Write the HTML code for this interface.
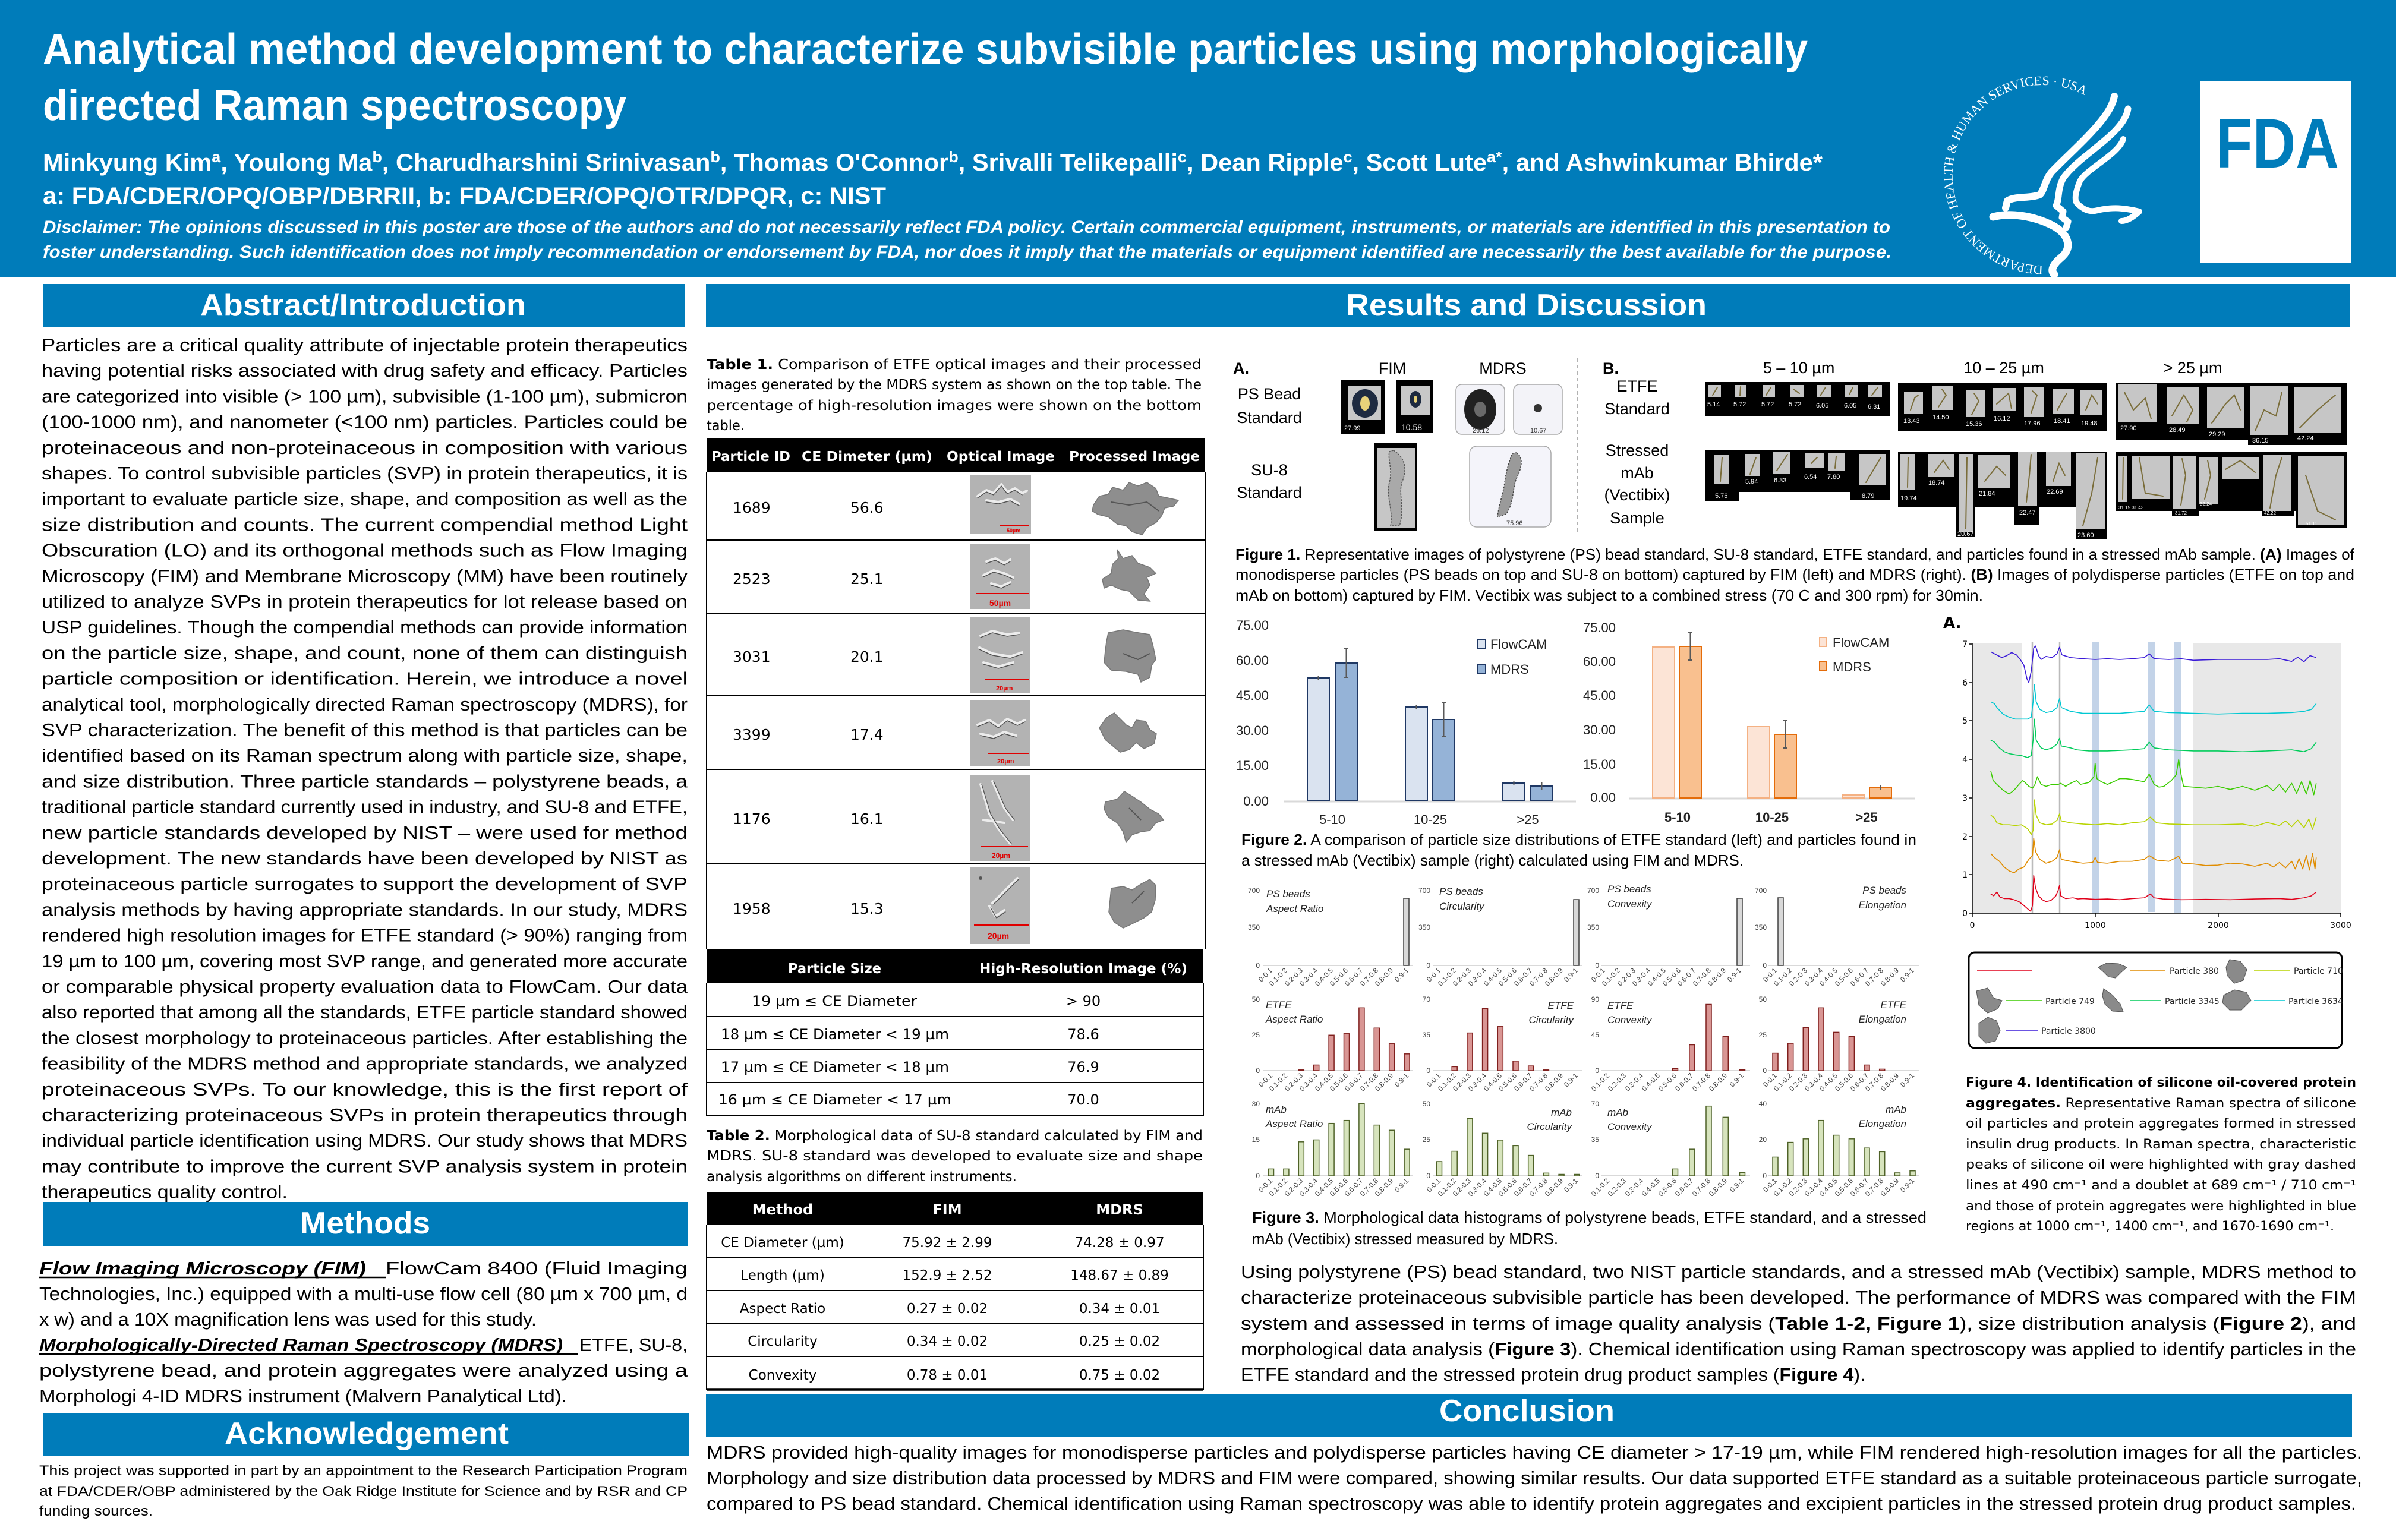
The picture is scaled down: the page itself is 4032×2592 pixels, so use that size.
<!DOCTYPE html>
<html><head><meta charset="utf-8"><title>MDRS poster</title>
<style>
html,body{margin:0;padding:0;background:#fff;}
svg{display:block;}
.sp polyline{vector-effect:non-scaling-stroke;fill:none;stroke-width:1.6;stroke-linejoin:round}
.lb{font-family:"Liberation Sans",Arial,sans-serif}
.dj{font-family:"DejaVu Sans","Liberation Sans",sans-serif}
.xl{font-family:"Liberation Sans",Arial,sans-serif;font-size:12px;fill:#404040;text-anchor:end}
.yl{font-family:"Liberation Sans",Arial,sans-serif;font-size:12px;fill:#404040;text-anchor:end}
.tt{font-family:"Liberation Sans",Arial,sans-serif;font-size:17px;font-style:italic;fill:#222}
</style></head><body>
<svg width="4032" height="2592" viewBox="0 0 4032 2592" xmlns="http://www.w3.org/2000/svg">
<rect x="0" y="0" width="4032" height="2592" fill="#fff"/>

<!-- HEADER -->
<rect x="0" y="0" width="4032" height="466" fill="#007CBA"/>
<g class="lb" fill="#fff" font-weight="bold">
<text x="72" y="107" font-size="72" textLength="2970" lengthAdjust="spacingAndGlyphs">Analytical method development to characterize subvisible particles using morphologically</text>
<text x="72" y="202" font-size="72" textLength="982" lengthAdjust="spacingAndGlyphs">directed Raman spectroscopy</text>
<text x="72" y="287" font-size="40" textLength="2995" lengthAdjust="spacingAndGlyphs">Minkyung Kim<tspan dy="-14" font-size="26">a</tspan><tspan dy="14">, Youlong Ma</tspan><tspan dy="-14" font-size="26">b</tspan><tspan dy="14">, Charudharshini Srinivasan</tspan><tspan dy="-14" font-size="26">b</tspan><tspan dy="14">, Thomas O'Connor</tspan><tspan dy="-14" font-size="26">b</tspan><tspan dy="14">, Srivalli Telikepalli</tspan><tspan dy="-14" font-size="26">c</tspan><tspan dy="14">, Dean Ripple</tspan><tspan dy="-14" font-size="26">c</tspan><tspan dy="14">, Scott Lute</tspan><tspan dy="-14" font-size="26">a*</tspan><tspan dy="14">, and Ashwinkumar Bhirde*</tspan></text>
<text x="72" y="343" font-size="40" textLength="1419" lengthAdjust="spacingAndGlyphs">a: FDA/CDER/OPQ/OBP/DBRRII, b: FDA/CDER/OPQ/OTR/DPQR, c: NIST</text>
<text x="72" y="392" font-size="30" font-style="italic" textLength="3109" lengthAdjust="spacingAndGlyphs">Disclaimer:  The opinions discussed in this poster are those of the authors and do not necessarily reflect FDA policy. Certain commercial equipment, instruments, or materials are identified in this presentation to</text>
<text x="72" y="434" font-size="30" font-style="italic" textLength="3111" lengthAdjust="spacingAndGlyphs">foster understanding.  Such identification does not imply recommendation or endorsement by FDA, nor does it imply that the materials or equipment identified are necessarily the best available for the purpose.</text>
</g>

<!-- HHS logo -->
<path id="hhsarc" d="M3438,447 A152,152 0 1 1 3531,175" fill="none"/>
<text font-family="Liberation Serif,serif" font-size="22" fill="#fff"><textPath href="#hhsarc">DEPARTMENT OF HEALTH &amp; HUMAN SERVICES · USA</textPath></text>
<g fill="none" stroke="#fff" stroke-linecap="round" stroke-linejoin="round">
<path d="M3558,162 C3552,200 3490,250 3452,290 C3440,305 3440,322 3432,328 C3415,334 3390,330 3378,338 L3375,350" stroke-width="12"/>
<path d="M3581,183 C3575,225 3500,260 3472,300 C3462,318 3466,335 3460,346 L3472,356 L3470,366 L3480,373 L3477,383" stroke-width="11"/>
<path d="M3573,234 C3565,260 3510,285 3500,305 C3494,320 3490,335 3495,342 C3505,352 3515,358 3530,354 C3555,348 3575,350 3600,356 C3590,365 3580,372 3570,372" stroke-width="10"/>
<path d="M3354,365 C3380,358 3420,362 3455,380 C3482,395 3488,418 3468,434 C3455,445 3450,455 3457,462" stroke-width="13"/>
</g>
<rect x="3703" y="136" width="254" height="307" fill="#fff"/>
<text x="3729" y="282" class="lb" font-size="118" font-weight="bold" fill="#007CBA" textLength="207" lengthAdjust="spacingAndGlyphs">FDA</text>

<!-- SECTION BARS -->
<g fill="#007CBA">
<rect x="72" y="478" width="1080" height="72"/>
<rect x="1188" y="478" width="2767" height="72"/>
<rect x="72" y="2023" width="1085" height="74"/>
<rect x="72" y="2378" width="1088" height="72"/>
<rect x="1188" y="2346" width="2770" height="73"/>
</g>
<g class="lb" fill="#fff" font-weight="bold" font-size="52">
<text x="337" y="531" textLength="548" lengthAdjust="spacingAndGlyphs">Abstract/Introduction</text>
<text x="2265" y="531" textLength="607" lengthAdjust="spacingAndGlyphs">Results and Discussion</text>
<text x="505" y="2076" textLength="219" lengthAdjust="spacingAndGlyphs">Methods</text>
<text x="378" y="2430" textLength="478" lengthAdjust="spacingAndGlyphs">Acknowledgement</text>
<text x="2422" y="2392" textLength="295" lengthAdjust="spacingAndGlyphs">Conclusion</text>
</g>

<!-- ABSTRACT -->
<g class="lb" font-size="31" fill="#000">
<text x="70" y="591" textLength="1087" lengthAdjust="spacingAndGlyphs">Particles are a critical quality attribute of injectable protein therapeutics</text>
<text x="70" y="634.2" textLength="1087" lengthAdjust="spacingAndGlyphs">having potential risks associated with drug safety and efficacy. Particles</text>
<text x="70" y="677.4" textLength="1087" lengthAdjust="spacingAndGlyphs">are categorized into visible (&gt; 100 µm), subvisible (1-100 µm), submicron</text>
<text x="70" y="720.6" textLength="1087" lengthAdjust="spacingAndGlyphs">(100-1000 nm), and nanometer (&lt;100 nm) particles. Particles could be</text>
<text x="70" y="763.8" textLength="1087" lengthAdjust="spacingAndGlyphs">proteinaceous   and   non-proteinaceous   in   composition   with   various</text>
<text x="70" y="807" textLength="1087" lengthAdjust="spacingAndGlyphs">shapes. To control subvisible particles (SVP) in protein therapeutics, it is</text>
<text x="70" y="850.2" textLength="1087" lengthAdjust="spacingAndGlyphs">important to evaluate particle size, shape, and composition as well as the</text>
<text x="70" y="893.4" textLength="1087" lengthAdjust="spacingAndGlyphs">size  distribution  and  counts.  The  current  compendial  method  Light</text>
<text x="70" y="936.6" textLength="1087" lengthAdjust="spacingAndGlyphs">Obscuration  (LO)  and  its  orthogonal  methods  such  as  Flow  Imaging</text>
<text x="70" y="979.8" textLength="1087" lengthAdjust="spacingAndGlyphs">Microscopy (FIM) and Membrane Microscopy (MM) have been routinely</text>
<text x="70" y="1023" textLength="1087" lengthAdjust="spacingAndGlyphs">utilized to analyze SVPs in protein therapeutics for lot release based on</text>
<text x="70" y="1066.2" textLength="1087" lengthAdjust="spacingAndGlyphs">USP guidelines. Though the compendial methods can provide information</text>
<text x="70" y="1109.4" textLength="1087" lengthAdjust="spacingAndGlyphs">on the particle size, shape, and count, none of them can distinguish</text>
<text x="70" y="1152.6" textLength="1087" lengthAdjust="spacingAndGlyphs">particle composition or identification.  Herein, we introduce a novel</text>
<text x="70" y="1195.8" textLength="1087" lengthAdjust="spacingAndGlyphs">analytical tool, morphologically directed Raman spectroscopy (MDRS), for</text>
<text x="70" y="1239" textLength="1087" lengthAdjust="spacingAndGlyphs">SVP characterization. The benefit of this method is that particles can be</text>
<text x="70" y="1282.2" textLength="1087" lengthAdjust="spacingAndGlyphs">identified based on its Raman spectrum along with particle size, shape,</text>
<text x="70" y="1325.4" textLength="1087" lengthAdjust="spacingAndGlyphs">and size distribution. Three particle standards – polystyrene beads, a</text>
<text x="70" y="1368.6" textLength="1087" lengthAdjust="spacingAndGlyphs">traditional particle standard currently used in industry, and SU-8 and ETFE,</text>
<text x="70" y="1411.8" textLength="1087" lengthAdjust="spacingAndGlyphs">new  particle  standards  developed  by  NIST  –  were  used  for  method</text>
<text x="70" y="1455" textLength="1087" lengthAdjust="spacingAndGlyphs">development.  The  new  standards  have  been  developed  by  NIST  as</text>
<text x="70" y="1498.2" textLength="1087" lengthAdjust="spacingAndGlyphs">proteinaceous particle surrogates to support the development of SVP</text>
<text x="70" y="1541.4" textLength="1087" lengthAdjust="spacingAndGlyphs">analysis methods by having appropriate standards. In our study, MDRS</text>
<text x="70" y="1584.6" textLength="1087" lengthAdjust="spacingAndGlyphs">rendered high resolution images for ETFE standard (&gt; 90%) ranging from</text>
<text x="70" y="1627.8" textLength="1087" lengthAdjust="spacingAndGlyphs">19 µm to 100 µm, covering most SVP range, and generated more accurate</text>
<text x="70" y="1671" textLength="1087" lengthAdjust="spacingAndGlyphs">or comparable physical property evaluation data to FlowCam. Our data</text>
<text x="70" y="1714.2" textLength="1087" lengthAdjust="spacingAndGlyphs">also reported that among all the standards, ETFE particle standard showed</text>
<text x="70" y="1757.4" textLength="1087" lengthAdjust="spacingAndGlyphs">the closest morphology to proteinaceous particles. After establishing the</text>
<text x="70" y="1800.6" textLength="1087" lengthAdjust="spacingAndGlyphs">feasibility of the MDRS method and appropriate standards, we analyzed</text>
<text x="70" y="1843.8" textLength="1087" lengthAdjust="spacingAndGlyphs">proteinaceous  SVPs.  To  our  knowledge,  this  is  the  first  report  of</text>
<text x="70" y="1887" textLength="1087" lengthAdjust="spacingAndGlyphs">characterizing  proteinaceous  SVPs  in  protein  therapeutics  through</text>
<text x="70" y="1930.2" textLength="1087" lengthAdjust="spacingAndGlyphs">individual particle identification using MDRS. Our study shows that MDRS</text>
<text x="70" y="1973.4" textLength="1087" lengthAdjust="spacingAndGlyphs">may contribute to improve the current SVP analysis system in protein</text>
<text x="70" y="2016.6" textLength="414" lengthAdjust="spacingAndGlyphs">therapeutics quality control.</text>
</g>

<!-- METHODS -->
<g class="lb" font-size="31" fill="#000">
<text x="66" y="2145" textLength="550" lengthAdjust="spacingAndGlyphs" font-weight="bold" font-style="italic">Flow Imaging Microscopy (FIM)</text>
<text x="649" y="2145" textLength="508" lengthAdjust="spacingAndGlyphs">FlowCam 8400 (Fluid Imaging</text>
<text x="66" y="2188" textLength="1091" lengthAdjust="spacingAndGlyphs">Technologies, Inc.) equipped with a multi-use flow cell (80 µm x 700 µm, d</text>
<text x="66" y="2231" textLength="837" lengthAdjust="spacingAndGlyphs">x w) and a 10X magnification lens was used for this study.</text>
<text x="66" y="2274" textLength="881" lengthAdjust="spacingAndGlyphs" font-weight="bold" font-style="italic">Morphologically-Directed Raman Spectroscopy (MDRS)</text>
<text x="975" y="2274" textLength="182" lengthAdjust="spacingAndGlyphs">ETFE, SU-8,</text>
<text x="66" y="2317" textLength="1091" lengthAdjust="spacingAndGlyphs">polystyrene bead, and protein aggregates were analyzed using a</text>
<text x="66" y="2360" textLength="888" lengthAdjust="spacingAndGlyphs">Morphologi 4-ID MDRS instrument (Malvern Panalytical Ltd).</text>
</g>
<line x1="66" y1="2150" x2="649" y2="2150" stroke="#000" stroke-width="2.5"/>
<line x1="66" y1="2279" x2="973" y2="2279" stroke="#000" stroke-width="2.5"/>

<!-- ACK -->
<g class="lb" font-size="24" fill="#000">
<text x="66" y="2483" textLength="1091" lengthAdjust="spacingAndGlyphs">This project was supported in part by an appointment to the Research Participation Program</text>
<text x="66" y="2518" textLength="1091" lengthAdjust="spacingAndGlyphs">at FDA/CDER/OBP administered by the Oak Ridge Institute for Science and by  RSR and CP</text>
<text x="66" y="2551" textLength="191" lengthAdjust="spacingAndGlyphs">funding sources.</text>
</g>

<!-- TABLE 1 CAPTION -->
<g class="dj" font-size="23" fill="#000">
<text x="1189" y="621" textLength="833" lengthAdjust="spacingAndGlyphs"><tspan font-weight="bold">Table 1.</tspan> Comparison of ETFE optical images and their processed</text>
<text x="1189" y="655" textLength="833" lengthAdjust="spacingAndGlyphs">images generated by the MDRS system as shown on the top table. The</text>
<text x="1189" y="690" textLength="833" lengthAdjust="spacingAndGlyphs">percentage of high-resolution images were shown on the bottom</text>
<text x="1189" y="724" textLength="64" lengthAdjust="spacingAndGlyphs">table.</text>
</g>

<!-- TABLE 1 -->
<rect x="1189" y="738" width="839" height="56" fill="#000"/>
<g class="dj" font-size="23" font-weight="bold" fill="#fff">
<text x="1197" y="776" textLength="133" lengthAdjust="spacingAndGlyphs">Particle ID</text>
<text x="1349" y="776" textLength="220" lengthAdjust="spacingAndGlyphs">CE Dimeter (µm)</text>
<text x="1593" y="776" textLength="182" lengthAdjust="spacingAndGlyphs">Optical Image</text>
<text x="1799" y="776" textLength="220" lengthAdjust="spacingAndGlyphs">Processed Image</text>
</g>
<g stroke="#000" stroke-width="2">
<line x1="1189" y1="794" x2="1189" y2="1598"/>
<line x1="2028" y1="794" x2="2028" y2="1598"/>
<line x1="1189" y1="909" x2="2028" y2="909"/>
<line x1="1189" y1="1032" x2="2028" y2="1032"/>
<line x1="1189" y1="1171" x2="2028" y2="1171"/>
<line x1="1189" y1="1295" x2="2028" y2="1295"/>
<line x1="1189" y1="1453" x2="2028" y2="1453"/>
</g>
<g class="dj" font-size="25" fill="#000">
<text x="1233" y="863">1689</text><text x="1431" y="863">56.6</text>
<text x="1233" y="983">2523</text><text x="1431" y="983">25.1</text>
<text x="1233" y="1114">3031</text><text x="1431" y="1114">20.1</text>
<text x="1233" y="1245">3399</text><text x="1431" y="1245">17.4</text>
<text x="1233" y="1387">1176</text><text x="1431" y="1387">16.1</text>
<text x="1233" y="1538">1958</text><text x="1431" y="1538">15.3</text>
</g>
<!-- optical tiles -->
<g fill="#b3b3b3">
<rect x="1633" y="800" width="102" height="99"/>
<rect x="1632" y="916" width="101" height="109"/>
<rect x="1632" y="1039" width="101" height="128"/>
<rect x="1632" y="1179" width="101" height="110"/>
<rect x="1632" y="1304" width="101" height="145"/>
<rect x="1632" y="1460" width="101" height="129"/>
</g>
<g fill="none" stroke-linecap="round" stroke-linejoin="round">
<g stroke="#ececec" stroke-width="4">
<polyline points="1645,835 1660,825 1672,830 1685,815 1695,828 1708,822 1720,830 1728,826"/>
<polyline points="1660,842 1680,845 1700,840 1715,848"/>
<polyline points="1660,945 1675,940 1690,948 1700,942"/><polyline points="1655,968 1672,960 1690,965 1705,972"/><polyline points="1668,982 1685,987 1700,980"/>
<polyline points="1650,1070 1670,1062 1695,1068 1715,1065"/><polyline points="1648,1090 1670,1100 1700,1105 1720,1098"/><polyline points="1655,1115 1680,1122 1705,1115"/>
<polyline points="1645,1220 1665,1212 1680,1222 1695,1210 1712,1218 1725,1212"/><polyline points="1650,1235 1672,1240 1690,1232 1710,1238"/>
<polyline points="1650,1320 1665,1370 1680,1395 1700,1420"/><polyline points="1670,1315 1690,1360 1705,1380"/><polyline points="1655,1380 1690,1385"/>
<polyline points="1670,1520 1685,1505 1700,1490 1712,1478"/><polyline points="1665,1525 1675,1542 1690,1532"/>
</g>
<g stroke="#505050" stroke-width="1.3">
<polyline points="1645,838 1660,828 1672,833 1685,818 1695,831 1708,825 1720,833"/>
<polyline points="1660,845 1680,848 1700,843 1715,851"/>
<polyline points="1660,948 1675,943 1690,951 1700,945"/><polyline points="1655,971 1672,963 1690,968 1705,975"/><polyline points="1668,985 1685,990 1700,983"/>
<polyline points="1650,1073 1670,1065 1695,1071 1715,1068"/><polyline points="1648,1093 1670,1103 1700,1108 1720,1101"/><polyline points="1655,1118 1680,1125 1705,1118"/>
<polyline points="1645,1223 1665,1215 1680,1225 1695,1213 1712,1221 1725,1215"/><polyline points="1650,1238 1672,1243 1690,1235 1710,1241"/>
<polyline points="1652,1320 1667,1370 1682,1395 1702,1420"/><polyline points="1672,1315 1692,1360 1707,1380"/>
<polyline points="1672,1522 1687,1507 1702,1492 1714,1480"/><polyline points="1667,1528 1677,1545 1692,1535"/>
</g>
</g>
<circle cx="1650" cy="1478" r="3" fill="#555"/>
<g stroke="#e00000" stroke-width="2">
<line x1="1682" y1="885" x2="1731" y2="885"/>
<line x1="1642" y1="999" x2="1732" y2="999"/>
<line x1="1658" y1="1144" x2="1732" y2="1144"/>
<line x1="1662" y1="1268" x2="1731" y2="1268"/>
<line x1="1650" y1="1425" x2="1730" y2="1425"/>
<line x1="1639" y1="1557" x2="1731" y2="1557"/>
</g>
<g class="lb" fill="#e00000" font-weight="bold">
<text x="1694" y="896" font-size="9">50µm</text>
<text x="1665" y="1020" font-size="14">50µm</text>
<text x="1676" y="1162" font-size="11">20µm</text>
<text x="1678" y="1285" font-size="11">20µm</text>
<text x="1669" y="1444" font-size="12">20µm</text>
<text x="1662" y="1580" font-size="14">20µm</text>
</g>
<!-- processed images -->
<g fill="#8e8e8e" stroke="#777" stroke-width="1.5">
<polygon points="1840,850 1850,835 1865,832 1872,820 1890,825 1900,812 1915,818 1930,812 1945,822 1950,835 1965,838 1983,842 1975,852 1960,855 1955,868 1945,880 1930,888 1922,900 1905,895 1895,885 1880,882 1865,870 1848,866 1838,860"/>
<polygon points="1880,925 1890,940 1905,935 1915,948 1935,955 1945,965 1930,972 1935,985 1925,1000 1935,1012 1915,1010 1900,995 1885,992 1870,985 1858,990 1855,975 1870,965 1872,950 1882,940"/>
<polygon points="1865,1065 1890,1060 1910,1064 1935,1068 1940,1085 1945,1110 1938,1120 1935,1140 1920,1148 1915,1135 1895,1130 1870,1128 1858,1115 1860,1095 1862,1080"/>
<polygon points="1850,1225 1862,1208 1875,1200 1885,1210 1895,1220 1905,1225 1912,1212 1928,1214 1935,1228 1946,1235 1942,1252 1925,1260 1912,1250 1900,1262 1885,1266 1872,1255 1860,1245"/>
<polygon points="1860,1350 1880,1345 1892,1332 1905,1340 1920,1350 1935,1362 1950,1370 1958,1380 1945,1385 1935,1398 1920,1400 1905,1405 1895,1418 1890,1400 1880,1385 1865,1375 1858,1362"/>
<polygon points="1870,1495 1890,1492 1905,1498 1920,1488 1935,1480 1945,1490 1944,1515 1938,1535 1925,1545 1905,1555 1890,1562 1875,1552 1866,1535 1868,1515"/>
</g>
<g fill="none" stroke="#555" stroke-width="2">
<polyline points="1870,845 1900,850 1930,845 1950,860"/><polyline points="1890,1100 1915,1110 1935,1100"/><polyline points="1900,1360 1920,1380"/><polyline points="1905,1520 1925,1500"/>
</g>

<!-- TABLE 1 bottom -->
<rect x="1189" y="1598" width="836" height="57" fill="#000"/>
<g class="dj" font-size="23" font-weight="bold" fill="#fff">
<text x="1326" y="1638" textLength="157" lengthAdjust="spacingAndGlyphs">Particle Size</text>
<text x="1648" y="1638" textLength="350" lengthAdjust="spacingAndGlyphs">High-Resolution Image (%)</text>
</g>
<g stroke="#000" stroke-width="2">
<line x1="1189" y1="1655" x2="1189" y2="1878"/>
<line x1="2025" y1="1655" x2="2025" y2="1878"/>
<line x1="1189" y1="1711" x2="2025" y2="1711"/>
<line x1="1189" y1="1766" x2="2025" y2="1766"/>
<line x1="1189" y1="1822" x2="2025" y2="1822"/>
<line x1="1189" y1="1877" x2="2025" y2="1877"/>
</g>
<g class="dj" font-size="24" fill="#000">
<text x="1265" y="1693" textLength="278" lengthAdjust="spacingAndGlyphs">19 µm  ≤ CE Diameter</text>
<text x="1213" y="1749" textLength="384" lengthAdjust="spacingAndGlyphs">18 µm ≤ CE Diameter &lt; 19 µm</text>
<text x="1213" y="1804" textLength="384" lengthAdjust="spacingAndGlyphs">17 µm ≤ CE Diameter &lt; 18 µm</text>
<text x="1209" y="1859" textLength="392" lengthAdjust="spacingAndGlyphs">16 µm  ≤ CE Diameter &lt; 17 µm</text>
<g text-anchor="middle">
<text x="1823" y="1693">&gt; 90</text>
<text x="1823" y="1749">78.6</text>
<text x="1823" y="1804">76.9</text>
<text x="1823" y="1859">70.0</text>
</g>
</g>

<!-- TABLE 2 CAPTION -->
<g class="dj" font-size="23" fill="#000">
<text x="1189" y="1919" textLength="835" lengthAdjust="spacingAndGlyphs"><tspan font-weight="bold">Table 2.</tspan> Morphological data of SU-8 standard calculated by FIM and</text>
<text x="1189" y="1953" textLength="835" lengthAdjust="spacingAndGlyphs">MDRS.  SU-8  standard  was  developed  to  evaluate  size  and  shape</text>
<text x="1189" y="1988" textLength="522" lengthAdjust="spacingAndGlyphs">analysis algorithms on different instruments.</text>
</g>
<!-- TABLE 2 -->
<rect x="1189" y="2006" width="836" height="56" fill="#000"/>
<g class="dj" font-size="24" font-weight="bold" fill="#fff" text-anchor="middle">
<text x="1317" y="2044">Method</text><text x="1594" y="2044">FIM</text><text x="1884" y="2044">MDRS</text>
</g>
<g stroke="#000" stroke-width="2">
<line x1="1189" y1="2062" x2="1189" y2="2340"/>
<line x1="2025" y1="2062" x2="2025" y2="2340"/>
<line x1="1189" y1="2117" x2="2025" y2="2117"/>
<line x1="1189" y1="2172" x2="2025" y2="2172"/>
<line x1="1189" y1="2228" x2="2025" y2="2228"/>
<line x1="1189" y1="2283" x2="2025" y2="2283"/>
<line x1="1189" y1="2339" x2="2025" y2="2339" stroke-width="3.5"/>
</g>
<g class="dj" font-size="23" fill="#000" text-anchor="middle">
<text x="1317" y="2099">CE Diameter (µm)</text><text x="1594" y="2099">75.92 ± 2.99</text><text x="1884" y="2099">74.28 ± 0.97</text>
<text x="1317" y="2154">Length (µm)</text><text x="1594" y="2154">152.9 ± 2.52</text><text x="1884" y="2154">148.67 ± 0.89</text>
<text x="1317" y="2210">Aspect Ratio</text><text x="1594" y="2210">0.27 ± 0.02</text><text x="1884" y="2210">0.34 ± 0.01</text>
<text x="1317" y="2265">Circularity</text><text x="1594" y="2265">0.34 ± 0.02</text><text x="1884" y="2265">0.25 ± 0.02</text>
<text x="1317" y="2322">Convexity</text><text x="1594" y="2322">0.78 ± 0.01</text><text x="1884" y="2322">0.75 ± 0.02</text>
</g>

<!-- FIGURE 1 -->
<g class="lb" font-size="27" fill="#000">
<text x="2075" y="629" font-weight="bold">A.</text>
<text x="2343" y="629" text-anchor="middle">FIM</text>
<text x="2529" y="629" text-anchor="middle">MDRS</text>
<text x="2136" y="672" text-anchor="middle">PS Bead</text>
<text x="2136" y="712" text-anchor="middle">Standard</text>
<text x="2136" y="800" text-anchor="middle">SU-8</text>
<text x="2136" y="838" text-anchor="middle">Standard</text>
<text x="2697" y="629" font-weight="bold">B.</text>
<text x="2755" y="659" text-anchor="middle">ETFE</text>
<text x="2755" y="697" text-anchor="middle">Standard</text>
<text x="2755" y="767" text-anchor="middle">Stressed</text>
<text x="2755" y="805" text-anchor="middle">mAb</text>
<text x="2755" y="842" text-anchor="middle">(Vectibix)</text>
<text x="2755" y="881" text-anchor="middle">Sample</text>
<text x="3027" y="628" text-anchor="middle">5 – 10 µm</text>
<text x="3372" y="628" text-anchor="middle">10 – 25 µm</text>
<text x="3690" y="628" text-anchor="middle">&gt; 25 µm</text>
</g>
<line x1="2655" y1="603" x2="2655" y2="898" stroke="#999" stroke-width="1.5" stroke-dasharray="6,5"/>
<!-- PS bead -->
<rect x="2257" y="640" width="73" height="90" fill="#000"/>
<rect x="2268" y="650" width="56" height="57" fill="#c8c8c8"/>
<ellipse cx="2297" cy="679" rx="22" ry="24" fill="#1d2a40"/>
<ellipse cx="2297" cy="679" rx="8" ry="12" fill="#e8d27a"/>
<rect x="2350" y="639" width="61" height="90" fill="#000"/>
<rect x="2357" y="649" width="50" height="49" fill="#c8c8c8"/>
<ellipse cx="2382" cy="672" rx="10" ry="14" fill="#1d2a40"/>
<ellipse cx="2382" cy="672" rx="3" ry="6" fill="#e8d27a"/>
<rect x="2450" y="647" width="82" height="84" rx="10" fill="#f3f3f8" stroke="#aaa" stroke-width="1.5"/>
<ellipse cx="2491" cy="689" rx="27" ry="34" fill="#202020"/>
<ellipse cx="2491" cy="689" rx="10" ry="13" fill="#6a6a6a"/>
<rect x="2547" y="647" width="82" height="84" rx="10" fill="#f3f3f8" stroke="#aaa" stroke-width="1.5"/>
<circle cx="2588" cy="687" r="7" fill="#333"/>
<g class="lb" font-size="11">
<text x="2262" y="724" fill="#fff">27.99</text>
<text x="2358" y="724" fill="#fff" font-size="14">10.58</text>
<text x="2478" y="728" fill="#333">26.12</text>
<text x="2575" y="728" fill="#333">10.67</text>
</g>
<!-- SU-8 -->
<rect x="2312" y="745" width="72" height="149" fill="#000"/>
<rect x="2318" y="754" width="63" height="134" fill="#c6c6c6"/>
<path d="M2345,758 C2365,770 2368,790 2360,810 C2352,830 2365,855 2355,885 L2340,885 C2345,860 2332,835 2338,812 C2344,790 2335,775 2338,760 Z" fill="#a9a9a9" stroke="#555" stroke-width="1.5" stroke-dasharray="3,2"/>
<rect x="2473" y="751" width="137" height="136" rx="12" fill="#f4f4fa" stroke="#aaa" stroke-width="1.5"/>
<path d="M2552,762 C2565,770 2560,790 2552,805 C2545,822 2548,845 2535,865 L2520,870 C2522,850 2530,830 2532,812 C2534,795 2540,775 2545,763 Z" fill="#9a9a9a" stroke="#444" stroke-width="1.5" stroke-dasharray="3,2"/>
<text x="2535" y="884" class="lb" font-size="11" fill="#333">75.96</text>

<!-- ETFE boxes -->
<g fill="#000">
<rect x="2870" y="643" width="310" height="57"/>
<rect x="3194" y="644" width="351" height="82"/>
<rect x="3560" y="644" width="390" height="96"/>
<rect x="3783" y="738" width="167" height="11"/>
<rect x="2870" y="758" width="310" height="70"/>
<rect x="2870" y="826" width="57" height="18"/>
<rect x="3113" y="826" width="67" height="16"/>
<rect x="3194" y="760" width="351" height="93"/>
<rect x="3292" y="850" width="32" height="54"/>
<rect x="3390" y="850" width="42" height="34"/>
<rect x="3493" y="850" width="52" height="57"/>
<rect x="3560" y="761" width="390" height="99"/>
<rect x="3655" y="858" width="45" height="10"/>
<rect x="3806" y="858" width="54" height="10"/>
<rect x="3864" y="858" width="86" height="30"/>
</g>
<g fill="#c6c6c6">
<rect x="2875" y="648" width="21" height="21"/><rect x="2919" y="648" width="19" height="21"/><rect x="2966" y="648" width="21" height="21"/><rect x="3012" y="648" width="23" height="21"/><rect x="3057" y="648" width="24" height="21"/><rect x="3104" y="648" width="23" height="21"/><rect x="3144" y="648" width="23" height="21"/>
<rect x="3204" y="659" width="32" height="37"/><rect x="3252" y="649" width="34" height="41"/><rect x="3309" y="656" width="31" height="46"/><rect x="3353" y="653" width="40" height="39"/><rect x="3406" y="652" width="34" height="50"/><rect x="3454" y="654" width="36" height="42"/><rect x="3500" y="657" width="38" height="42"/>
<rect x="3565" y="647" width="65" height="64"/><rect x="3647" y="652" width="54" height="62"/><rect x="3714" y="651" width="63" height="70"/><rect x="3787" y="649" width="63" height="83"/><rect x="3861" y="652" width="79" height="77"/>
<rect x="2884" y="765" width="25" height="49"/><rect x="2937" y="764" width="25" height="37"/><rect x="2984" y="761" width="29" height="36"/><rect x="3037" y="762" width="33" height="26"/><rect x="3076" y="762" width="28" height="30"/><rect x="3129" y="764" width="44" height="53"/>
<rect x="3198" y="764" width="25" height="61"/><rect x="3245" y="764" width="44" height="39"/><rect x="3296" y="764" width="25" height="132"/><rect x="3328" y="765" width="55" height="56"/><rect x="3396" y="760" width="32" height="91"/><rect x="3443" y="761" width="42" height="57"/><rect x="3494" y="763" width="48" height="128"/>
<rect x="3565" y="767" width="14" height="78"/><rect x="3588" y="767" width="63" height="73"/><rect x="3657" y="768" width="38" height="88"/><rect x="3701" y="769" width="32" height="79"/><rect x="3739" y="769" width="63" height="37"/><rect x="3808" y="765" width="48" height="95"/><rect x="3867" y="768" width="77" height="116"/>
</g>
<g fill="none" stroke="#7a6d3a" stroke-width="2" stroke-linecap="round">
<polyline points="2882,665 2890,652"/><polyline points="2928,666 2929,651"/><polyline points="2972,665 2980,652"/><polyline points="3018,655 3028,662"/><polyline points="3063,666 3072,652"/><polyline points="3112,664 3118,652"/><polyline points="3150,665 3160,652"/>
<polyline points="3215,690 3222,670 3228,665"/><polyline points="3262,685 3275,665 3268,655"/><polyline points="3318,698 3330,675 3322,662"/><polyline points="3360,680 3380,662 3385,688"/><polyline points="3418,695 3428,665 3420,658"/><polyline points="3462,690 3478,662"/><polyline points="3510,690 3520,665 3530,680"/>
<polyline points="3575,660 3590,690 3610,670 3620,705"/><polyline points="3655,700 3675,665 3690,690 3680,710"/><polyline points="3722,712 3745,680 3760,665 3770,690"/><polyline points="3795,725 3810,690 3830,700 3840,660"/><polyline points="3870,720 3900,690 3930,665"/>
<polyline points="2895,810 2898,770"/><polyline points="2945,798 2955,770"/><polyline points="2990,792 3008,765"/><polyline points="3048,780 3058,770"/><polyline points="3088,788 3090,768"/><polyline points="3140,812 3165,770"/>
<polyline points="3210,820 3211,770"/><polyline points="3255,795 3270,775 3280,790"/><polyline points="3308,890 3310,770"/><polyline points="3340,810 3360,785 3375,800"/><polyline points="3410,845 3415,800 3418,765"/><polyline points="3455,810 3465,780 3475,800"/><polyline points="3505,885 3520,830 3530,770"/>
<polyline points="3572,840 3573,770"/><polyline points="3600,770 3610,830 3640,835"/><polyline points="3670,850 3678,800 3672,772"/><polyline points="3710,840 3720,800 3715,775"/><polyline points="3745,790 3770,775 3795,795"/><polyline points="3820,855 3830,800 3840,770"/><polyline points="3880,800 3900,860 3930,875"/>
</g>
<g class="lb" font-size="11" fill="#fff">
<text x="2873" y="684">5.14</text><text x="2917" y="684">5.72</text><text x="2964" y="684">5.72</text><text x="3010" y="684">5.72</text><text x="3056" y="686">6.05</text><text x="3103" y="686">6.05</text><text x="3143" y="688">6.31</text>
<text x="3203" y="712">13.43</text><text x="3252" y="706">14.50</text><text x="3308" y="717">15.36</text><text x="3355" y="708">16.12</text><text x="3406" y="716">17.96</text><text x="3456" y="712">18.41</text><text x="3502" y="716">19.48</text>
<text x="3568" y="724">27.90</text><text x="3650" y="727">28.49</text><text x="3717" y="734">29.29</text><text x="3790" y="745">36.15</text><text x="3866" y="741">42.24</text>
<text x="2886" y="838">5.76</text><text x="2937" y="814">5.94</text><text x="2985" y="812">6.33</text><text x="3036" y="806">6.54</text><text x="3075" y="806">7.80</text><text x="3133" y="838">8.79</text>
<text x="3198" y="842">19.74</text><text x="3245" y="816">18.74</text><text x="3294" y="902">20.67</text><text x="3330" y="834">21.84</text><text x="3398" y="866">22.47</text><text x="3444" y="831">22.69</text><text x="3496" y="904">23.60</text>
<text x="3565" y="857" font-size="8">31.15 31.43</text><text x="3660" y="866" font-size="8">31.72</text><text x="3702" y="851" font-size="8">32.24</text><text x="3810" y="866" font-size="8">42.22</text><text x="3880" y="884" font-size="8">51.11</text>
</g>
<!-- Fig 1 caption -->
<g class="lb" font-size="26" fill="#000">
<text x="2079" y="942" textLength="1883" lengthAdjust="spacingAndGlyphs"><tspan font-weight="bold">Figure 1.</tspan> Representative images of polystyrene (PS) bead standard, SU-8 standard, ETFE standard, and particles found in a stressed mAb sample. <tspan font-weight="bold">(A)</tspan> Images of</text>
<text x="2079" y="976" textLength="1883" lengthAdjust="spacingAndGlyphs">monodisperse particles (PS beads on top and SU-8 on bottom) captured by FIM (left) and MDRS (right). <tspan font-weight="bold">(B)</tspan> Images of polydisperse particles (ETFE on top and</text>
<text x="2079" y="1011" textLength="1258" lengthAdjust="spacingAndGlyphs">mAb on bottom) captured by FIM. Vectibix was subject to a combined stress (70 C and 300 rpm) for 30min.</text>
</g>

<!-- FIGURE 2 -->
<g class="lb" font-size="22" fill="#222">
<g text-anchor="end">
<text x="2135" y="1060">75.00</text><text x="2135" y="1119">60.00</text><text x="2135" y="1178">45.00</text><text x="2135" y="1237">30.00</text><text x="2135" y="1296">15.00</text><text x="2135" y="1356">0.00</text>
<text x="2719" y="1064">75.00</text><text x="2719" y="1121">60.00</text><text x="2719" y="1178">45.00</text><text x="2719" y="1236">30.00</text><text x="2719" y="1294">15.00</text><text x="2719" y="1350">0.00</text>
</g>
<g text-anchor="middle">
<text x="2242" y="1387">5-10</text><text x="2407" y="1387">10-25</text><text x="2571" y="1387">&gt;25</text>
<text x="2823" y="1383" font-weight="bold">5-10</text><text x="2982" y="1383" font-weight="bold">10-25</text><text x="3141" y="1383" font-weight="bold">&gt;25</text>
</g>
<text x="2508" y="1092">FlowCAM</text><text x="2508" y="1134">MDRS</text>
<text x="3084" y="1089">FlowCAM</text><text x="3084" y="1130">MDRS</text>
</g>
<line x1="2160" y1="1349" x2="2652" y2="1349" stroke="#d9d9d9" stroke-width="3"/>
<line x1="2742" y1="1344" x2="3222" y2="1344" stroke="#d9d9d9" stroke-width="3"/>
<g stroke="#1f3864" stroke-width="2">
<rect x="2200" y="1141" width="37" height="207" fill="#dae3f0"/>
<rect x="2247" y="1116" width="37" height="232" fill="#95b3d7"/>
<rect x="2365" y="1190" width="37" height="158" fill="#dae3f0"/>
<rect x="2411" y="1211" width="37" height="137" fill="#95b3d7"/>
<rect x="2529" y="1318" width="37" height="30" fill="#dae3f0"/>
<rect x="2576" y="1323" width="37" height="25" fill="#95b3d7"/>
<rect x="2487" y="1077" width="13" height="14" fill="#dae3f0"/>
<rect x="2487" y="1119" width="13" height="14" fill="#95b3d7"/>
</g>
<g stroke="#f4b183" stroke-width="2" fill="#fce4d6">
<rect x="2781" y="1089" width="37" height="254"/>
<rect x="2941" y="1223" width="37" height="120"/>
<rect x="3100" y="1338" width="37" height="5"/>
<rect x="3062" y="1073" width="12" height="15"/>
</g>
<g stroke="#e46c0a" stroke-width="2" fill="#f9c08f">
<rect x="2826" y="1088" width="37" height="255"/>
<rect x="2986" y="1236" width="37" height="107"/>
<rect x="3146" y="1326" width="37" height="17"/>
<rect x="3062" y="1114" width="12" height="15"/>
</g>
<g stroke="#595959" stroke-width="2">
<line x1="2265.5" y1="1091" x2="2265.5" y2="1140"/><line x1="2262" y1="1091" x2="2269" y2="1091"/><line x1="2262" y1="1140" x2="2269" y2="1140"/>
<line x1="2429.5" y1="1183" x2="2429.5" y2="1240"/><line x1="2426" y1="1183" x2="2433" y2="1183"/><line x1="2426" y1="1240" x2="2433" y2="1240"/>
<line x1="2594.5" y1="1316" x2="2594.5" y2="1330"/>
<line x1="2218.5" y1="1137" x2="2218.5" y2="1145"/><line x1="2383.5" y1="1187" x2="2383.5" y2="1193"/><line x1="2547.5" y1="1315" x2="2547.5" y2="1322"/>
<line x1="2844.5" y1="1064" x2="2844.5" y2="1111"/><line x1="2841" y1="1064" x2="2848" y2="1064"/><line x1="2841" y1="1111" x2="2848" y2="1111"/>
<line x1="3004.5" y1="1213" x2="3004.5" y2="1259"/><line x1="3001" y1="1213" x2="3008" y2="1213"/><line x1="3001" y1="1259" x2="3008" y2="1259"/>
<line x1="3164.5" y1="1322" x2="3164.5" y2="1330"/>
</g>
<g class="lb" font-size="26" fill="#000">
<text x="2089" y="1422" textLength="1136" lengthAdjust="spacingAndGlyphs"><tspan font-weight="bold">Figure 2.</tspan> A comparison of particle size distributions of ETFE standard (left) and particles found in</text>
<text x="2089" y="1457" textLength="845" lengthAdjust="spacingAndGlyphs">a stressed mAb (Vectibix) sample (right) calculated using FIM and MDRS.</text>
</g>

<!-- FIGURE 3 -->
<g stroke="#d9d9d9" stroke-width="2">
<line x1="2126" y1="1625" x2="2378" y2="1625"/><line x1="2412" y1="1625" x2="2662" y2="1625"/><line x1="2694" y1="1625" x2="2945" y2="1625"/><line x1="2975" y1="1625" x2="3230" y2="1625"/>
<line x1="2126" y1="1802" x2="2378" y2="1802"/><line x1="2412" y1="1802" x2="2662" y2="1802"/><line x1="2694" y1="1802" x2="2945" y2="1802"/><line x1="2975" y1="1802" x2="3230" y2="1802"/>
<line x1="2126" y1="1979" x2="2378" y2="1979"/><line x1="2412" y1="1979" x2="2662" y2="1979"/><line x1="2694" y1="1979" x2="2945" y2="1979"/><line x1="2975" y1="1979" x2="3230" y2="1979"/>
</g>
<g fill="#d9d9d9" stroke="#404040" stroke-width="1.5">
<rect x="2362" y="1512" width="9" height="113"/>
<rect x="2648" y="1514" width="9" height="111"/>
<rect x="2923" y="1512" width="9" height="113"/>
<rect x="2992" y="1511" width="9" height="114"/>
</g>
<g fill="#d99694" stroke="#7f1f1d" stroke-width="1.5">
<rect x="2185.3" y="1800.8" width="9" height="1.2"/><rect x="2210.7" y="1792.5" width="9" height="9.5"/><rect x="2236.1" y="1742.3" width="9" height="59.7"/><rect x="2261.5" y="1739.8" width="9" height="62.2"/><rect x="2286.9" y="1696.3" width="9" height="105.7"/><rect x="2312.3" y="1730.3" width="9" height="71.7"/><rect x="2337.7" y="1756.8" width="9" height="45.2"/><rect x="2363.1" y="1773.8" width="9" height="28.2"/>
<rect x="2443.2" y="1795.4" width="9" height="6.6"/><rect x="2468.9" y="1738.6" width="9" height="63.4"/><rect x="2494.6" y="1697.6" width="9" height="104.4"/><rect x="2520.3" y="1727.8" width="9" height="74.2"/><rect x="2546" y="1785.8" width="9" height="16.2"/><rect x="2571.7" y="1794.1" width="9" height="7.9"/><rect x="2597.4" y="1800.8" width="9" height="1.2"/>
<rect x="2814.5" y="1798.3" width="9" height="3.7"/><rect x="2842.8" y="1758.5" width="9" height="43.5"/><rect x="2871" y="1690.5" width="9" height="111.5"/><rect x="2899.3" y="1744.4" width="9" height="57.6"/><rect x="2927.5" y="1800.4" width="9" height="1.6"/>
<rect x="2983" y="1772.6" width="9" height="29.4"/><rect x="3008.7" y="1756" width="9" height="46"/><rect x="3034.3" y="1729.5" width="9" height="72.5"/><rect x="3060" y="1696.3" width="9" height="105.7"/><rect x="3085.7" y="1737.4" width="9" height="64.6"/><rect x="3111.4" y="1744.4" width="9" height="57.6"/><rect x="3137" y="1792.5" width="9" height="9.5"/><rect x="3162.7" y="1799.5" width="9" height="2.5"/>
</g>
<g fill="#d7e4bd" stroke="#4f6228" stroke-width="1.5">
<rect x="2134.5" y="1967.4" width="9" height="11.6"/><rect x="2159.9" y="1967.4" width="9" height="11.6"/><rect x="2185.3" y="1921.8" width="9" height="57.2"/><rect x="2210.7" y="1918.5" width="9" height="60.5"/><rect x="2236.1" y="1890.7" width="9" height="88.3"/><rect x="2261.5" y="1885.7" width="9" height="93.3"/><rect x="2286.9" y="1857.6" width="9" height="121.4"/><rect x="2312.3" y="1893.6" width="9" height="85.4"/><rect x="2337.7" y="1902.3" width="9" height="76.7"/><rect x="2363.1" y="1934.2" width="9" height="44.8"/>
<rect x="2417.5" y="1955" width="9" height="24"/><rect x="2443.2" y="1937.6" width="9" height="41.4"/><rect x="2468.9" y="1882.4" width="9" height="96.6"/><rect x="2494.6" y="1907.3" width="9" height="71.7"/><rect x="2520.3" y="1918.9" width="9" height="60.1"/><rect x="2546" y="1928.4" width="9" height="50.6"/><rect x="2571.7" y="1944.6" width="9" height="34.4"/><rect x="2597.4" y="1974.4" width="9" height="4.6"/><rect x="2623.1" y="1976.5" width="9" height="2.5"/><rect x="2648.8" y="1976.5" width="9" height="2.5"/>
<rect x="2814.5" y="1967.4" width="9" height="11.6"/><rect x="2842.8" y="1934.2" width="9" height="44.8"/><rect x="2871" y="1861.7" width="9" height="117.3"/><rect x="2899.3" y="1880.4" width="9" height="98.6"/><rect x="2927.5" y="1973.6" width="9" height="5.4"/>
<rect x="2983" y="1947.5" width="9" height="31.5"/><rect x="3008.7" y="1922.6" width="9" height="56.4"/><rect x="3034.3" y="1916.8" width="9" height="62.2"/><rect x="3060" y="1885.7" width="9" height="93.3"/><rect x="3085.7" y="1910.6" width="9" height="68.4"/><rect x="3111.4" y="1916.8" width="9" height="62.2"/><rect x="3137" y="1932.2" width="9" height="46.8"/><rect x="3162.7" y="1938.4" width="9" height="40.6"/><rect x="3188.4" y="1974" width="9" height="5"/><rect x="3214" y="1970.7" width="9" height="8.3"/>
</g>
<g class="yl">
<text x="2120" y="1503">700</text><text x="2120" y="1565">350</text><text x="2120" y="1629">0</text>
<text x="2407" y="1503">700</text><text x="2407" y="1565">350</text><text x="2407" y="1629">0</text>
<text x="2691" y="1503">700</text><text x="2691" y="1565">350</text><text x="2691" y="1629">0</text>
<text x="2973" y="1503">700</text><text x="2973" y="1565">350</text><text x="2973" y="1629">0</text>
<text x="2120" y="1686">50</text><text x="2120" y="1746">25</text><text x="2120" y="1806">0</text>
<text x="2407" y="1686">70</text><text x="2407" y="1746">35</text><text x="2407" y="1806">0</text>
<text x="2691" y="1686">90</text><text x="2691" y="1746">45</text><text x="2691" y="1806">0</text>
<text x="2973" y="1686">50</text><text x="2973" y="1746">25</text><text x="2973" y="1806">0</text>
<text x="2120" y="1862">30</text><text x="2120" y="1922">15</text><text x="2120" y="1983">0</text>
<text x="2407" y="1862">50</text><text x="2407" y="1922">25</text><text x="2407" y="1983">0</text>
<text x="2691" y="1862">70</text><text x="2691" y="1922">35</text><text x="2691" y="1983">0</text>
<text x="2973" y="1862">40</text><text x="2973" y="1922">20</text><text x="2973" y="1983">0</text>
</g>
<g class="tt">
<text x="2131" y="1510">PS beads</text><text x="2131" y="1535">Aspect Ratio</text>
<text x="2422" y="1506">PS beads</text><text x="2422" y="1531">Circularity</text>
<text x="2705" y="1502">PS beads</text><text x="2705" y="1527">Convexity</text>
<text x="3208" y="1504" text-anchor="end">PS beads</text><text x="3208" y="1529" text-anchor="end">Elongation</text>
<text x="2130" y="1697">ETFE</text><text x="2130" y="1721">Aspect Ratio</text>
<text x="2648" y="1698" text-anchor="end">ETFE</text><text x="2648" y="1722" text-anchor="end">Circularity</text>
<text x="2705" y="1698">ETFE</text><text x="2705" y="1722">Convexity</text>
<text x="3208" y="1697" text-anchor="end">ETFE</text><text x="3208" y="1721" text-anchor="end">Elongation</text>
<text x="2130" y="1873">mAb</text><text x="2130" y="1897">Aspect Ratio</text>
<text x="2645" y="1878" text-anchor="end">mAb</text><text x="2645" y="1902" text-anchor="end">Circularity</text>
<text x="2705" y="1878">mAb</text><text x="2705" y="1902">Convexity</text>
<text x="3208" y="1873" text-anchor="end">mAb</text><text x="3208" y="1897" text-anchor="end">Elongation</text>
</g>
<g class="xl">
<text transform="translate(2142,1634) rotate(-45)">0-0.1</text><text transform="translate(2167,1634) rotate(-45)">0.1-0.2</text><text transform="translate(2193,1634) rotate(-45)">0.2-0.3</text><text transform="translate(2218,1634) rotate(-45)">0.3-0.4</text><text transform="translate(2244,1634) rotate(-45)">0.4-0.5</text><text transform="translate(2269,1634) rotate(-45)">0.5-0.6</text><text transform="translate(2294,1634) rotate(-45)">0.6-0.7</text><text transform="translate(2320,1634) rotate(-45)">0.7-0.8</text><text transform="translate(2345,1634) rotate(-45)">0.8-0.9</text><text transform="translate(2371,1634) rotate(-45)">0.9-1</text>
<text transform="translate(2425,1634) rotate(-45)">0-0.1</text><text transform="translate(2451,1634) rotate(-45)">0.1-0.2</text><text transform="translate(2476,1634) rotate(-45)">0.2-0.3</text><text transform="translate(2502,1634) rotate(-45)">0.3-0.4</text><text transform="translate(2528,1634) rotate(-45)">0.4-0.5</text><text transform="translate(2553,1634) rotate(-45)">0.5-0.6</text><text transform="translate(2579,1634) rotate(-45)">0.6-0.7</text><text transform="translate(2605,1634) rotate(-45)">0.7-0.8</text><text transform="translate(2631,1634) rotate(-45)">0.8-0.9</text><text transform="translate(2656,1634) rotate(-45)">0.9-1</text>
<text transform="translate(2702,1634) rotate(-45)">0-0.1</text><text transform="translate(2727,1634) rotate(-45)">0.1-0.2</text><text transform="translate(2753,1634) rotate(-45)">0.2-0.3</text><text transform="translate(2778,1634) rotate(-45)">0.3-0.4</text><text transform="translate(2804,1634) rotate(-45)">0.4-0.5</text><text transform="translate(2829,1634) rotate(-45)">0.5-0.6</text><text transform="translate(2854,1634) rotate(-45)">0.6-0.7</text><text transform="translate(2880,1634) rotate(-45)">0.7-0.8</text><text transform="translate(2905,1634) rotate(-45)">0.8-0.9</text><text transform="translate(2931,1634) rotate(-45)">0.9-1</text>
<text transform="translate(2991,1634) rotate(-45)">0-0.1</text><text transform="translate(3016,1634) rotate(-45)">0.1-0.2</text><text transform="translate(3042,1634) rotate(-45)">0.2-0.3</text><text transform="translate(3068,1634) rotate(-45)">0.3-0.4</text><text transform="translate(3093,1634) rotate(-45)">0.4-0.5</text><text transform="translate(3119,1634) rotate(-45)">0.5-0.6</text><text transform="translate(3145,1634) rotate(-45)">0.6-0.7</text><text transform="translate(3170,1634) rotate(-45)">0.7-0.8</text><text transform="translate(3196,1634) rotate(-45)">0.8-0.9</text><text transform="translate(3222,1634) rotate(-45)">0.9-1</text>
<text transform="translate(2142,1811) rotate(-45)">0-0.1</text><text transform="translate(2167,1811) rotate(-45)">0.1-0.2</text><text transform="translate(2193,1811) rotate(-45)">0.2-0.3</text><text transform="translate(2218,1811) rotate(-45)">0.3-0.4</text><text transform="translate(2244,1811) rotate(-45)">0.4-0.5</text><text transform="translate(2269,1811) rotate(-45)">0.5-0.6</text><text transform="translate(2294,1811) rotate(-45)">0.6-0.7</text><text transform="translate(2320,1811) rotate(-45)">0.7-0.8</text><text transform="translate(2345,1811) rotate(-45)">0.8-0.9</text><text transform="translate(2371,1811) rotate(-45)">0.9-1</text>
<text transform="translate(2425,1811) rotate(-45)">0-0.1</text><text transform="translate(2451,1811) rotate(-45)">0.1-0.2</text><text transform="translate(2476,1811) rotate(-45)">0.2-0.3</text><text transform="translate(2502,1811) rotate(-45)">0.3-0.4</text><text transform="translate(2528,1811) rotate(-45)">0.4-0.5</text><text transform="translate(2553,1811) rotate(-45)">0.5-0.6</text><text transform="translate(2579,1811) rotate(-45)">0.6-0.7</text><text transform="translate(2605,1811) rotate(-45)">0.7-0.8</text><text transform="translate(2631,1811) rotate(-45)">0.8-0.9</text><text transform="translate(2656,1811) rotate(-45)">0.9-1</text>
<text transform="translate(2709,1811) rotate(-45)">0.1-0.2</text><text transform="translate(2737,1811) rotate(-45)">0.2-0.3</text><text transform="translate(2766,1811) rotate(-45)">0.3-0.4</text><text transform="translate(2794,1811) rotate(-45)">0.4-0.5</text><text transform="translate(2822,1811) rotate(-45)">0.5-0.6</text><text transform="translate(2850,1811) rotate(-45)">0.6-0.7</text><text transform="translate(2879,1811) rotate(-45)">0.7-0.8</text><text transform="translate(2907,1811) rotate(-45)">0.8-0.9</text><text transform="translate(2935,1811) rotate(-45)">0.9-1</text>
<text transform="translate(2991,1811) rotate(-45)">0-0.1</text><text transform="translate(3016,1811) rotate(-45)">0.1-0.2</text><text transform="translate(3042,1811) rotate(-45)">0.2-0.3</text><text transform="translate(3068,1811) rotate(-45)">0.3-0.4</text><text transform="translate(3093,1811) rotate(-45)">0.4-0.5</text><text transform="translate(3119,1811) rotate(-45)">0.5-0.6</text><text transform="translate(3145,1811) rotate(-45)">0.6-0.7</text><text transform="translate(3170,1811) rotate(-45)">0.7-0.8</text><text transform="translate(3196,1811) rotate(-45)">0.8-0.9</text><text transform="translate(3222,1811) rotate(-45)">0.9-1</text>
<text transform="translate(2142,1988) rotate(-45)">0-0.1</text><text transform="translate(2167,1988) rotate(-45)">0.1-0.2</text><text transform="translate(2193,1988) rotate(-45)">0.2-0.3</text><text transform="translate(2218,1988) rotate(-45)">0.3-0.4</text><text transform="translate(2244,1988) rotate(-45)">0.4-0.5</text><text transform="translate(2269,1988) rotate(-45)">0.5-0.6</text><text transform="translate(2294,1988) rotate(-45)">0.6-0.7</text><text transform="translate(2320,1988) rotate(-45)">0.7-0.8</text><text transform="translate(2345,1988) rotate(-45)">0.8-0.9</text><text transform="translate(2371,1988) rotate(-45)">0.9-1</text>
<text transform="translate(2425,1988) rotate(-45)">0-0.1</text><text transform="translate(2451,1988) rotate(-45)">0.1-0.2</text><text transform="translate(2476,1988) rotate(-45)">0.2-0.3</text><text transform="translate(2502,1988) rotate(-45)">0.3-0.4</text><text transform="translate(2528,1988) rotate(-45)">0.4-0.5</text><text transform="translate(2553,1988) rotate(-45)">0.5-0.6</text><text transform="translate(2579,1988) rotate(-45)">0.6-0.7</text><text transform="translate(2605,1988) rotate(-45)">0.7-0.8</text><text transform="translate(2631,1988) rotate(-45)">0.8-0.9</text><text transform="translate(2656,1988) rotate(-45)">0.9-1</text>
<text transform="translate(2709,1988) rotate(-45)">0.1-0.2</text><text transform="translate(2737,1988) rotate(-45)">0.2-0.3</text><text transform="translate(2766,1988) rotate(-45)">0.3-0.4</text><text transform="translate(2794,1988) rotate(-45)">0.4-0.5</text><text transform="translate(2822,1988) rotate(-45)">0.5-0.6</text><text transform="translate(2850,1988) rotate(-45)">0.6-0.7</text><text transform="translate(2879,1988) rotate(-45)">0.7-0.8</text><text transform="translate(2907,1988) rotate(-45)">0.8-0.9</text><text transform="translate(2935,1988) rotate(-45)">0.9-1</text>
<text transform="translate(2991,1988) rotate(-45)">0-0.1</text><text transform="translate(3016,1988) rotate(-45)">0.1-0.2</text><text transform="translate(3042,1988) rotate(-45)">0.2-0.3</text><text transform="translate(3068,1988) rotate(-45)">0.3-0.4</text><text transform="translate(3093,1988) rotate(-45)">0.4-0.5</text><text transform="translate(3119,1988) rotate(-45)">0.5-0.6</text><text transform="translate(3145,1988) rotate(-45)">0.6-0.7</text><text transform="translate(3170,1988) rotate(-45)">0.7-0.8</text><text transform="translate(3196,1988) rotate(-45)">0.8-0.9</text><text transform="translate(3222,1988) rotate(-45)">0.9-1</text>
</g>
<g class="lb" font-size="26" fill="#000">
<text x="2107" y="2058" textLength="1135" lengthAdjust="spacingAndGlyphs"><tspan font-weight="bold">Figure 3.</tspan> Morphological data histograms of polystyrene beads, ETFE standard, and a stressed</text>
<text x="2107" y="2094" textLength="515" lengthAdjust="spacingAndGlyphs">mAb (Vectibix) stressed measured by MDRS.</text>
</g>

<!-- FIGURE 4 -->
<text x="3270" y="1057" class="dj" font-size="26" font-weight="bold" fill="#000">A.</text>
<rect x="3319" y="1082" width="83" height="455" fill="#e8e8e8"/>
<rect x="3691" y="1082" width="248" height="455" fill="#e8e8e8"/>
<g fill="#c3d3e8">
<rect x="3521" y="1081" width="11" height="456"/>
<rect x="3614" y="1080" width="12" height="455"/>
<rect x="3659" y="1081" width="11" height="456"/>
</g>
<g stroke="#bbbbbb" stroke-width="2.5">
<line x1="3420" y1="1080" x2="3420" y2="1537"/>
<line x1="3466" y1="1080" x2="3466" y2="1537"/>
</g>
<g stroke="#000" stroke-width="1.5">
<line x1="3319" y1="1082" x2="3319" y2="1537"/>
<line x1="3319" y1="1537" x2="3940" y2="1537"/>
<line x1="3313" y1="1084" x2="3319" y2="1084"/><line x1="3313" y1="1149" x2="3319" y2="1149"/><line x1="3313" y1="1213" x2="3319" y2="1213"/><line x1="3313" y1="1278" x2="3319" y2="1278"/><line x1="3313" y1="1343" x2="3319" y2="1343"/><line x1="3313" y1="1408" x2="3319" y2="1408"/><line x1="3313" y1="1472" x2="3319" y2="1472"/><line x1="3313" y1="1537" x2="3319" y2="1537"/>
<line x1="3319" y1="1537" x2="3319" y2="1544"/><line x1="3526" y1="1537" x2="3526" y2="1544"/><line x1="3733" y1="1537" x2="3733" y2="1544"/><line x1="3939" y1="1537" x2="3939" y2="1544"/>
</g>
<g class="dj" font-size="14" fill="#000">
<g text-anchor="end">
<text x="3311" y="1089">7</text><text x="3311" y="1154">6</text><text x="3311" y="1218">5</text><text x="3311" y="1283">4</text><text x="3311" y="1348">3</text><text x="3311" y="1413">2</text><text x="3311" y="1477">1</text><text x="3311" y="1542">0</text>
</g>
<g text-anchor="middle">
<text x="3319" y="1562">0</text><text x="3526" y="1562">1000</text><text x="3733" y="1562">2000</text><text x="3939" y="1562">3000</text>
</g>
</g>
<g class="sp" transform="translate(3319,1537) scale(0.2067,-64.7)">
<polyline stroke="#e0001a" points="150,0.5 175,0.45 200,0.55 225,0.42 260,0.38 300,0.38 340,0.35 380,0.3 420,0.2 455,0.1 475,0.05 490,0.2 500,0.98 515,0.65 540,0.45 570,0.35 600,0.3 640,0.33 680,0.45 700,0.6 710,0.72 720,0.45 760,0.38 820,0.4 860,0.37 900,0.38 1000,0.36 1100,0.37 1200,0.35 1300,0.38 1400,0.4 1450,0.5 1480,0.4 1550,0.37 1700,0.35 1900,0.36 2100,0.35 2300,0.37 2500,0.38 2600,0.36 2700,0.4 2760,0.45 2800,0.55"/>
<polyline stroke="#e08c00" points="150,1.55 180,1.45 220,1.35 260,1.2 300,1.1 340,1.05 380,1.15 420,1.2 460,1.4 490,1.5 500,1.95 515,1.6 550,1.4 600,1.3 650,1.35 690,1.45 710,1.65 725,1.4 800,1.35 900,1.3 980,1.32 1000,1.45 1020,1.32 1100,1.3 1200,1.35 1300,1.35 1400,1.4 1440,1.5 1500,1.38 1600,1.35 1680,1.48 1710,1.3 1800,1.28 1900,1.24 2000,1.25 2100,1.3 2200,1.28 2300,1.22 2400,1.3 2450,1.2 2500,1.32 2550,1.18 2600,1.35 2630,1.15 2660,1.42 2690,1.15 2720,1.5 2745,1.12 2770,1.55 2790,1.15 2800,1.45"/>
<polyline stroke="#b8d400" points="150,2.55 180,2.48 200,2.35 250,2.3 300,2.3 350,2.28 400,2.3 450,2.2 480,2.05 495,2.15 505,2.95 520,2.55 550,2.35 600,2.3 650,2.32 690,2.42 710,2.58 725,2.4 800,2.35 900,2.32 1000,2.3 1100,2.33 1200,2.3 1300,2.35 1400,2.38 1450,2.5 1500,2.35 1600,2.32 1800,2.3 2000,2.3 2200,2.32 2300,2.26 2400,2.36 2500,2.28 2550,2.4 2600,2.25 2650,2.42 2700,2.22 2740,2.45 2770,2.18 2800,2.5"/>
<polyline stroke="#3bcc00" points="150,3.7 170,3.45 200,3.35 250,3.2 300,3.1 340,3.2 380,3.35 410,3.45 430,3.4 460,3.3 490,3.25 510,3.35 530,3.55 560,3.35 600,3.3 650,3.35 700,3.35 720,3.38 760,3.3 800,3.38 850,3.45 880,3.35 950,3.4 990,3.55 1000,3.9 1015,3.5 1050,3.42 1100,3.35 1150,3.42 1200,3.5 1250,3.5 1300,3.48 1350,3.45 1400,3.42 1440,3.62 1480,3.35 1520,3.28 1560,3.3 1620,3.45 1660,3.6 1680,4.0 1700,3.6 1720,3.3 1800,3.28 1900,3.25 2000,3.3 2100,3.22 2200,3.3 2300,3.2 2400,3.32 2450,3.18 2500,3.35 2550,3.15 2600,3.38 2640,3.12 2680,3.42 2720,3.1 2750,3.45 2780,3.08 2800,3.38"/>
<polyline stroke="#00cc5a" points="150,4.5 180,4.45 220,4.3 260,4.2 300,4.15 350,4.12 400,4.1 450,4.05 480,4.1 495,4.5 505,5.05 520,4.5 560,4.3 600,4.25 650,4.3 690,4.4 710,4.55 725,4.35 800,4.3 850,4.25 950,4.22 1100,4.22 1300,4.25 1400,4.28 1440,4.45 1480,4.3 1600,4.25 1800,4.22 2000,4.22 2200,4.2 2400,4.22 2600,4.25 2700,4.2 2760,4.28 2800,4.45"/>
<polyline stroke="#00c8d2" points="150,5.5 180,5.45 200,5.35 250,5.18 300,5.1 350,5.05 400,5.05 450,5.05 480,5.1 495,5.5 505,5.95 520,5.5 550,5.3 600,5.22 650,5.25 690,5.35 710,5.58 725,5.35 800,5.25 900,5.2 1000,5.2 1200,5.2 1400,5.25 1440,5.42 1480,5.25 1600,5.22 1800,5.2 2000,5.18 2200,5.2 2400,5.2 2600,5.22 2700,5.25 2760,5.3 2800,5.45"/>
<polyline stroke="#3a1ad8" points="150,6.8 180,6.75 210,6.7 240,6.65 280,6.7 320,6.78 360,6.72 390,6.6 420,6.45 445,6.1 460,6.0 480,6.3 500,6.9 515,6.95 540,6.7 560,6.6 600,6.68 650,6.65 690,6.75 710,6.92 730,6.72 800,6.65 900,6.62 1000,6.6 1100,6.62 1200,6.6 1300,6.62 1400,6.65 1440,6.75 1480,6.62 1600,6.6 1700,6.62 1800,6.58 2000,6.6 2200,6.6 2400,6.6 2500,6.62 2600,6.55 2650,6.66 2700,6.54 2750,6.7 2800,6.65"/>
</g>
<rect x="3313" y="1603" width="628" height="161" rx="10" fill="#fff" stroke="#000" stroke-width="3"/>
<g stroke-width="1.5">
<line x1="3327" y1="1633" x2="3419" y2="1633" stroke="#e0001a"/>
<line x1="3584" y1="1633" x2="3644" y2="1633" stroke="#e08c00"/>
<line x1="3793" y1="1633" x2="3853" y2="1633" stroke="#b8d400"/>
<line x1="3376" y1="1684" x2="3436" y2="1684" stroke="#3bcc00"/>
<line x1="3584" y1="1684" x2="3637" y2="1684" stroke="#00cc5a"/>
<line x1="3793" y1="1684" x2="3845" y2="1684" stroke="#00c8d2"/>
<line x1="3376" y1="1734" x2="3429" y2="1734" stroke="#3a1ad8"/>
</g>
<g fill="#8a8a8a" stroke="#555" stroke-width="1">
<path d="M3531,1628 L3545,1621 L3565,1622 L3579,1628 L3570,1636 L3560,1646 L3548,1644 L3540,1636 Z"/>
<path d="M3752,1615 L3770,1618 L3781,1632 L3775,1650 L3760,1655 L3748,1642 L3746,1628 Z"/>
<path d="M3326,1668 L3345,1663 L3355,1680 L3369,1684 L3362,1698 L3345,1705 L3330,1692 Z"/>
<path d="M3540,1664 L3555,1675 L3568,1690 L3573,1703 L3555,1702 L3542,1690 L3538,1676 Z"/>
<path d="M3742,1675 L3760,1666 L3780,1670 L3788,1684 L3772,1700 L3752,1700 L3740,1688 Z"/>
<path d="M3330,1722 L3345,1712 L3360,1718 L3366,1735 L3358,1752 L3342,1756 L3330,1744 Z"/>
</g>
<g class="dj" font-size="14" fill="#222">
<text x="3651" y="1639">Particle 380</text><text x="3860" y="1639">Particle 710</text>
<text x="3442" y="1690">Particle 749</text><text x="3643" y="1690">Particle 3345</text><text x="3851" y="1690">Particle 3634</text>
<text x="3435" y="1740">Particle 3800</text>
</g>
<g class="dj" font-size="22" fill="#000">
<text x="3308" y="1829" textLength="657" lengthAdjust="spacingAndGlyphs" font-weight="bold">Figure 4. Identification of silicone oil-covered protein</text>
<text x="3308" y="1864" textLength="657" lengthAdjust="spacingAndGlyphs"><tspan font-weight="bold">aggregates.</tspan> Representative Raman spectra of silicone</text>
<text x="3308" y="1898" textLength="657" lengthAdjust="spacingAndGlyphs">oil particles and protein aggregates formed in stressed</text>
<text x="3308" y="1933" textLength="657" lengthAdjust="spacingAndGlyphs">insulin drug products. In Raman spectra, characteristic</text>
<text x="3308" y="1967" textLength="657" lengthAdjust="spacingAndGlyphs">peaks of silicone oil were highlighted with gray dashed</text>
<text x="3308" y="2002" textLength="657" lengthAdjust="spacingAndGlyphs">lines at 490 cm⁻¹ and a doublet at 689 cm⁻¹ / 710 cm⁻¹</text>
<text x="3308" y="2037" textLength="657" lengthAdjust="spacingAndGlyphs">and those of protein aggregates were highlighted in blue</text>
<text x="3308" y="2071" textLength="620" lengthAdjust="spacingAndGlyphs">regions at 1000 cm⁻¹, 1400 cm⁻¹, and 1670-1690 cm⁻¹.</text>
</g>

<!-- RESULTS PARAGRAPH -->
<g class="lb" font-size="31" fill="#000">
<text x="2088" y="2151" textLength="1877" lengthAdjust="spacingAndGlyphs">Using polystyrene (PS) bead standard, two NIST particle standards, and a stressed mAb (Vectibix) sample, MDRS method to</text>
<text x="2088" y="2194" textLength="1877" lengthAdjust="spacingAndGlyphs">characterize proteinaceous subvisible particle has been developed. The performance of MDRS was compared with the FIM</text>
<text x="2088" y="2238" textLength="1877" lengthAdjust="spacingAndGlyphs">system and assessed in terms of image quality  analysis (<tspan font-weight="bold">Table 1-2, Figure 1</tspan>), size distribution analysis (<tspan font-weight="bold">Figure 2</tspan>), and</text>
<text x="2088" y="2281" textLength="1877" lengthAdjust="spacingAndGlyphs">morphological data analysis (<tspan font-weight="bold">Figure 3</tspan>). Chemical identification using Raman spectroscopy was applied  to identify particles in the</text>
<text x="2088" y="2324" textLength="1051" lengthAdjust="spacingAndGlyphs">ETFE standard and the stressed protein drug product samples (<tspan font-weight="bold">Figure 4</tspan>).</text>
</g>

<!-- CONCLUSION -->
<g class="lb" font-size="31" fill="#000">
<text x="1189" y="2455" textLength="2786" lengthAdjust="spacingAndGlyphs">MDRS provided high-quality images for monodisperse particles and polydisperse particles having CE diameter &gt; 17-19 µm, while FIM rendered high-resolution images for all the particles.</text>
<text x="1189" y="2498" textLength="2786" lengthAdjust="spacingAndGlyphs">Morphology and size distribution data processed by MDRS and FIM were compared, showing similar results. Our data supported ETFE standard as a suitable proteinaceous particle  surrogate,</text>
<text x="1189" y="2541" textLength="2776" lengthAdjust="spacingAndGlyphs">compared to PS bead standard. Chemical identification using Raman spectroscopy was able to identify protein aggregates and excipient particles in the stressed protein drug product samples.</text>
</g>
</svg>
</body></html>
